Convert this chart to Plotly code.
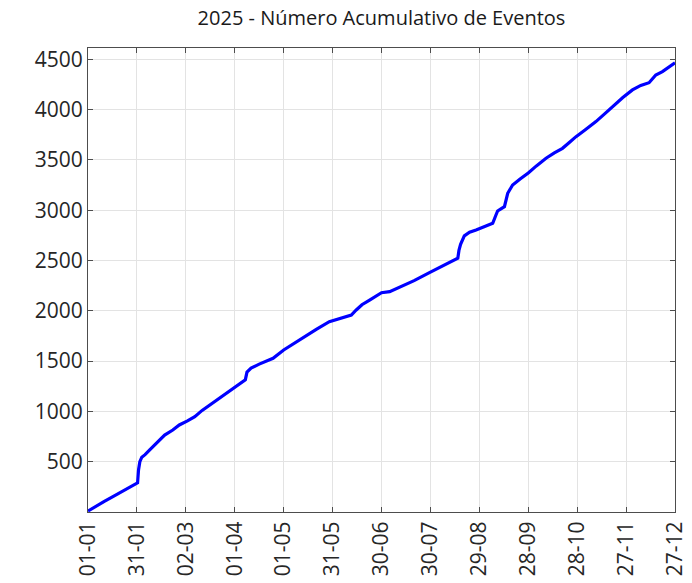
import plotly.graph_objects as go
import pandas as pd

# Days since 1 Jan 2025 and cumulative number of events
days = [0, 5, 10, 15, 20, 25, 29.5, 30.4, 31, 31.8, 33, 35, 38, 41, 44, 47, 52, 56, 61,
        65.5, 70, 76.7, 82, 86.9, 92, 96.5, 97.5, 100, 105, 113.5, 120, 127.8, 134, 140,
        148, 155, 161.5, 164.5, 168, 172.7, 180, 185, 192, 200, 209.4, 218, 226.8, 227.5,
        228.5, 230.8, 234, 238, 243, 248.2, 250.2, 251.2, 253, 255.4, 257.4, 260.4, 265,
        270, 275, 280.9, 286, 291, 295, 299.3, 305, 311.5, 317, 323.7, 328, 333.9, 339,
        344.1, 348.2, 352.3, 356, 360]
values = [10, 60, 105, 150, 195, 240, 278, 290, 420, 500, 545, 570, 620, 666, 715, 765,
          815, 865, 905, 947, 1010, 1087, 1150, 1213, 1265, 1315, 1390, 1430, 1470, 1528,
          1610, 1693, 1760, 1816, 1892, 1930, 1958, 2008, 2060, 2107, 2180, 2190, 2240,
          2300, 2379, 2450, 2522, 2600, 2660, 2744, 2780, 2803, 2835, 2870, 2952, 2992,
          3010, 3035, 3168, 3250, 3310, 3370, 3440, 3516, 3570, 3615, 3670, 3731, 3800,
          3880, 3960, 4062, 4120, 4195, 4240, 4267, 4344, 4377, 4420, 4466]

tick_dates = ["2025-01-01", "2025-01-31", "2025-03-02", "2025-04-01", "2025-05-01",
              "2025-05-31", "2025-06-30", "2025-07-30", "2025-08-29", "2025-09-28",
              "2025-10-28", "2025-11-27", "2025-12-27"]
tick_labels = ["01-01", "31-01", "02-03", "01-04", "01-05", "31-05", "30-06", "30-07",
               "29-08", "28-09", "28-10", "27-11", "27-12"]
y_ticks = [500, 1000, 1500, 2000, 2500, 3000, 3500, 4000, 4500]

title_text = "2025 - Número Acumulativo de Eventos"

base = pd.Timestamp("2025-01-01")
x = [base + pd.Timedelta(days=d) for d in days]

fig = go.Figure()
fig.add_trace(go.Scatter(x=x, y=values, mode="lines",
                         line=dict(color="#0000ff", width=3.2), showlegend=False,
                         cliponaxis=False))

axis_common = dict(
    showline=True, linecolor="#4d4d4d", linewidth=1, mirror="allticks",
    ticks="inside", ticklen=5, tickcolor="#4d4d4d",
    showgrid=True, gridcolor="#e3e3e3", gridwidth=1, zeroline=False,
    automargin=False,
    tickfont=dict(family="Open Sans", size=21, color="#262626"),
)

fig.update_layout(
    width=692, height=583,
    margin=dict(l=88, r=17, t=48, b=71),
    paper_bgcolor="white", plot_bgcolor="white",
    title=dict(text=title_text, xref="paper", x=0.5, xanchor="center",
               yref="container", y=1 - 18 / 583, yanchor="middle",
               font=dict(family="Open Sans", size=20, color="#1a1a1a")),
    xaxis=dict(type="date", range=[tick_dates[0], tick_dates[-1]],
               tickvals=tick_dates, ticktext=tick_labels, tickangle=-90, **axis_common),
    yaxis=dict(range=[0, 4612], tickvals=y_ticks, **axis_common),
)

# remove the default page margin so the figure sits at the window's corner
fig.write_html("out.html", config={"displayModeBar": False},
               post_script="document.body.style.margin='0';")
